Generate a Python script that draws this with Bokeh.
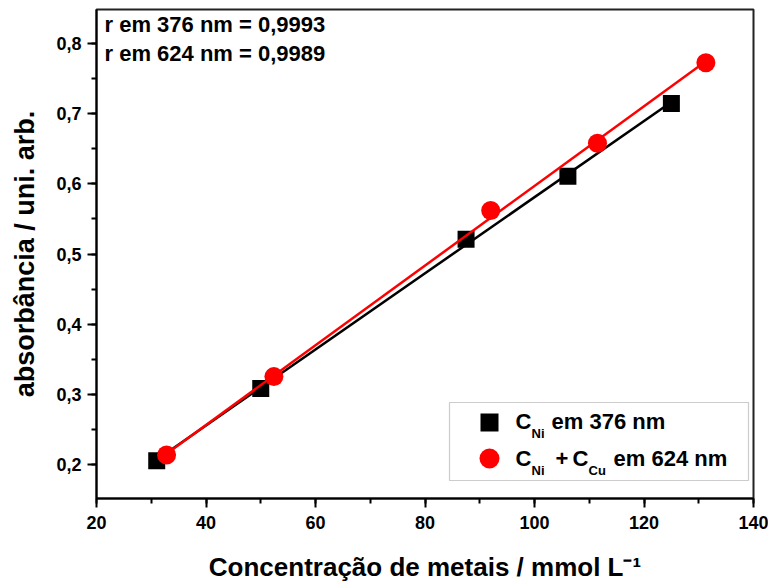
import numpy as np
from bokeh.plotting import figure
from bokeh.models import (Range1d, SingleIntervalTicker, CustomJSTickFormatter,
                          Label, BoxAnnotation)
from bokeh.embed import file_html
from bokeh.resources import INLINE

# ---- data ----
ni_x = [31.0, 50.0, 87.5, 106.1, 125.0]
ni_y = [0.205, 0.308, 0.521, 0.611, 0.715]
cu_x = [32.8, 52.4, 92.0, 111.5, 131.3]
cu_y = [0.213, 0.325, 0.562, 0.658, 0.773]
r_texts = ["r em 376 nm = 0,9993", "r em 624 nm = 0,9989"]
x_label = "Concentração de metais / mmol L⁻¹"
y_label = "absorbância / uni. arb."

FONT = "Liberation Sans"

p = figure(frame_width=657, frame_height=489, width=768, height=580,
           x_range=Range1d(20, 140), y_range=Range1d(0.151, 0.849),
           output_backend="svg", toolbar_location=None,
           min_border_left=96, min_border_right=15, min_border_top=9,
           min_border_bottom=82)
p.background_fill_color = "white"
p.border_fill_color = "white"
p.grid.visible = False
p.outline_line_color = "#222222"
p.outline_line_width = 2

# fit lines + points
for xs, ys, col in [(ni_x, ni_y, "black"), (cu_x, cu_y, "red")]:
    a, b = np.polyfit(xs, ys, 1)
    lx = np.array([min(xs), max(xs)])
    p.line(lx, a * lx + b, line_color=col, line_width=2.5)
    if col == "black":
        p.scatter(xs, ys, marker="square", size=17, fill_color="black", line_color=None)
    else:
        p.scatter(xs, ys, marker="circle", size=19, fill_color="red", line_color=None)

# axes
for ax in (p.xaxis[0], p.yaxis[0]):
    ax.axis_line_width = 2
    ax.major_tick_line_width = 2
    ax.minor_tick_line_width = 2
    ax.major_tick_out = 9
    ax.major_tick_in = 0
    ax.minor_tick_out = 5
    ax.minor_tick_in = 0
    ax.major_label_text_font = FONT
    ax.major_label_text_font_style = "bold"
    ax.major_label_text_font_size = "18px"
    ax.major_label_text_color = "black"
    ax.axis_label_text_font = FONT
    ax.axis_label_text_font_style = "bold"
    ax.axis_label_text_color = "black"

p.xaxis.axis_label_text_font_size = "26px"
p.yaxis.axis_label_text_font_size = "27px"
p.xaxis.ticker = SingleIntervalTicker(interval=20, num_minor_ticks=2)
p.yaxis.ticker = SingleIntervalTicker(interval=0.1, num_minor_ticks=2)
p.yaxis.formatter = CustomJSTickFormatter(code="return tick.toFixed(1).replace('.', ',');")
p.xaxis.formatter = CustomJSTickFormatter(code="return tick.toFixed(0);")
p.xaxis.major_label_standoff = 8
p.yaxis.major_label_standoff = 6
p.xaxis.axis_label = x_label
p.yaxis.axis_label = y_label
p.xaxis.axis_label_standoff = 20
p.yaxis.axis_label_standoff = 13

# pixel -> data helpers for annotation placement
def dx(px):
    return 20 + (px - 96) * 120 / 657

def dy(py):
    return 0.151 + (498 - py) * 0.698 / 489

# r texts
for i, t in enumerate(r_texts):
    p.add_layout(Label(x=dx(104), y=dy(24 + 29 * i), text=t, text_font=FONT,
                       text_font_style="bold", text_font_size="22px",
                       text_baseline="middle", text_color="black"))

# legend box
p.add_layout(BoxAnnotation(left=dx(449), right=dx(748), top=dy(402), bottom=dy(480),
                           fill_color="white", fill_alpha=1,
                           line_color="#555555", line_width=1.2))
p.scatter([dx(489)], [dy(422)], marker="square", size=18, fill_color="black",
          line_color=None, level="overlay")
p.scatter([dx(489)], [dy(458)], marker="circle", size=20, fill_color="red",
          line_color=None, level="overlay")

def txt(x, y, t, size):
    p.add_layout(Label(x=dx(x), y=dy(y), text=t, text_font=FONT,
                       text_font_style="bold", text_font_size=size,
                       text_baseline="middle", text_color="black"))

txt(515, 421, "C", "22px")
txt(531, 433, "Ni", "13px")
txt(551, 421, "em 376 nm", "22px")
txt(515, 458, "C", "22px")
txt(531, 470, "Ni", "13px")
txt(555, 458, "+", "22px")
txt(572, 458, "C", "22px")
txt(588, 470, "Cu", "13px")
txt(613, 458, "em 624 nm", "22px")

open("out.html", "w").write(file_html(p, INLINE))
